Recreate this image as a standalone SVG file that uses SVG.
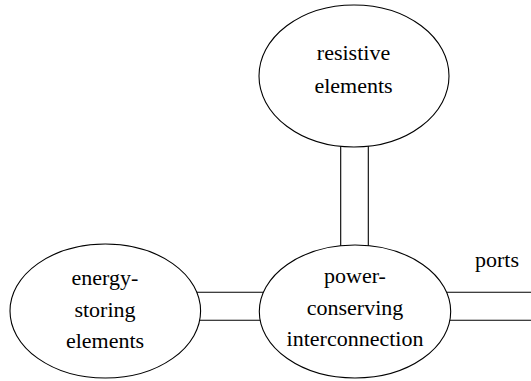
<svg xmlns="http://www.w3.org/2000/svg" width="531" height="381" viewBox="0 0 531 381">
<style>
.node{fill:#fff;stroke:#000;stroke-width:1.1}
.bond{stroke:#000;stroke-width:1.1;fill:none}
.lbl{font-family:'Liberation Serif','Times New Roman',serif;font-size:22px;fill:#000;text-anchor:middle}
</style>
<rect width="531" height="381" fill="#fff"/>
<g id="connectors">
<line class="bond" x1="340.7" y1="130" x2="340.7" y2="260"/>
<line class="bond" x1="368.3" y1="130" x2="368.3" y2="260"/>
<line class="bond" x1="180" y1="292.3" x2="280" y2="292.3"/>
<line class="bond" x1="180" y1="320.3" x2="280" y2="320.3"/>
<line class="bond" x1="430" y1="292.3" x2="531" y2="292.3"/>
<line class="bond" x1="430" y1="320.3" x2="531" y2="320.3"/>
<text class="lbl" x="497" y="266.7">ports</text>
</g>
<g id="resistive">
<ellipse class="node" cx="354" cy="76" rx="95" ry="71"/>
<text class="lbl" x="353.5" y="59.5">resistive</text>
<text class="lbl" x="353.5" y="93.3">elements</text>
</g>
<g id="storage">
<ellipse class="node" cx="105.3" cy="311" rx="95.3" ry="67"/>
<text class="lbl" x="105" y="285">energy-</text>
<text class="lbl" x="105" y="316.7">storing</text>
<text class="lbl" x="105" y="348.3">elements</text>
</g>
<g id="interconnection">
<ellipse class="node" cx="355" cy="311.5" rx="95.7" ry="66.5"/>
<text class="lbl" x="355" y="283">power-</text>
<text class="lbl" x="355" y="314.5">conserving</text>
<text class="lbl" x="355" y="346">interconnection</text>
</g>
</svg>
